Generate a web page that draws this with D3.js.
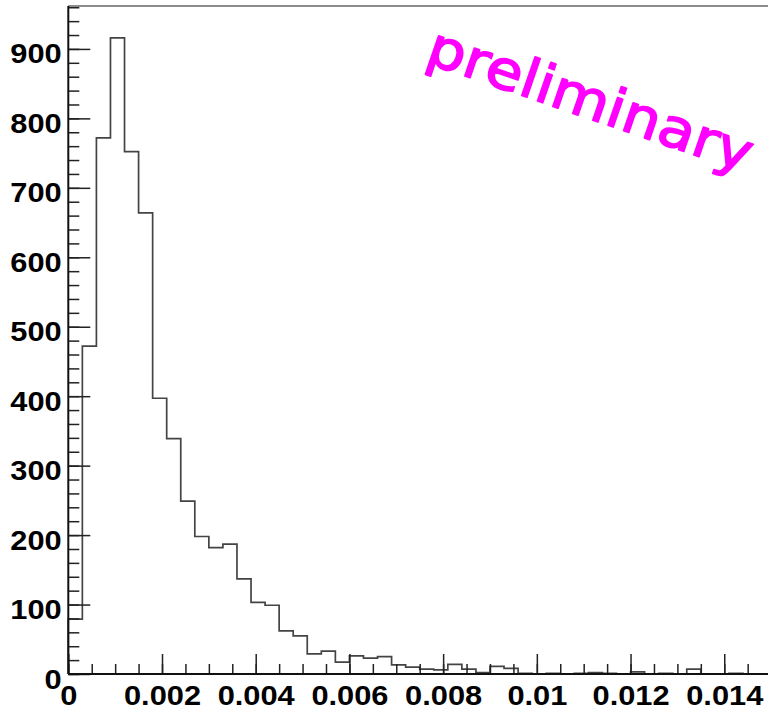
<!DOCTYPE html>
<html>
<head>
<meta charset="utf-8">
<script src="https://cdn.jsdelivr.net/npm/d3@7"></script>
<style>
  body { margin: 0; background: #fff; }
  svg text { font-family: "Liberation Sans", Arial, Helvetica, sans-serif; }
</style>
</head>
<body>
<div id="chart"></div>
<script>
// histogram: 50 bins of 0.0003 from 0 to 0.015
var binWidth = 0.0003;
var counts = [79, 472, 772, 916, 752, 664, 397, 339, 249, 198,
              182, 187, 137, 103, 99, 62, 55, 29, 33, 17,
              26, 23, 25, 13, 10, 7, 6, 14, 7, 2,
              11, 8, 1, 0, 1, 0, 1, 2, 1, 0,
              3, 0, 1, 0, 7, 0, 0, 1, 0, 0];
var xTicks = [0, 0.002, 0.004, 0.006, 0.008, 0.01, 0.012, 0.014];
var yTicks = [0, 100, 200, 300, 400, 500, 600, 700, 800, 900];
var label = "preliminary";

var width = 768, height = 710;
var frameLeft = 68.3, frameRight = 771.1, frameTop = 6, frameBottom = 674;

var svg = d3.select("#chart").append("svg")
    .attr("width", width)
    .attr("height", height);

var xScale = d3.scaleLinear().domain([0, counts.length * binWidth]).range([frameLeft, frameRight]);
var yScale = d3.scaleLinear().domain([0, d3.max(counts) * 1.05]).range([frameBottom, frameTop]);

// frame
svg.append("line").attr("x1", frameLeft).attr("x2", frameRight).attr("y1", frameTop).attr("y2", frameTop)
    .style("stroke", "#666").style("stroke-width", 1.5);
svg.append("line").attr("x1", frameRight).attr("x2", frameRight).attr("y1", frameTop).attr("y2", frameBottom)
    .style("stroke", "#666").style("stroke-width", 1.5);

// histogram outline
var pts = [[0, 0]];
counts.forEach(function (c, i) {
    pts.push([i * binWidth, c]);
    pts.push([(i + 1) * binWidth, c]);
});
pts.push([counts.length * binWidth, 0]);
var line = d3.line()
    .x(function (d) { return xScale(d[0]); })
    .y(function (d) { return yScale(d[1]); });
svg.append("path")
    .datum(pts)
    .attr("d", line)
    .style("fill", "none")
    .style("stroke", "#444")
    .style("stroke-width", 1.7);

// y axis: majors every 100, minors every 20
var yMinor = d3.range(0, yScale.domain()[1], 20);
svg.append("g")
    .attr("transform", "translate(" + frameLeft + ",0)")
    .call(d3.axisLeft(yScale).tickValues(yMinor).tickSize(-11).tickFormat(""))
    .call(function (g) { g.select(".domain").remove(); });
var yAxis = svg.append("g")
    .attr("transform", "translate(" + frameLeft + ",0)")
    .call(d3.axisLeft(yScale).tickValues(yTicks).tickSize(-22).tickPadding(6).tickFormat(d3.format("d")));
yAxis.select(".domain").remove();
yAxis.selectAll("text")
    .attr("dy", "0.5em")
    .attr("transform", "scale(1.1,1)")
    .style("font-size", "28px")
    .style("font-weight", "bold")
    .style("fill", "#000");

// x axis: majors every 0.002, minors every 0.0005
var xMinor = d3.range(0, 0.0151, 0.0005);
svg.append("g")
    .attr("transform", "translate(0," + frameBottom + ")")
    .call(d3.axisBottom(xScale).tickValues(xMinor).tickSize(-10).tickFormat(""))
    .call(function (g) { g.select(".domain").remove(); });
var xAxis = svg.append("g")
    .attr("transform", "translate(0," + frameBottom + ")")
    .call(d3.axisBottom(xScale).tickValues(xTicks).tickSize(-20).tickPadding(11).tickFormat(function (d) { return String(+d.toFixed(3)); }));
xAxis.select(".domain").remove();
xAxis.selectAll("text")
    .attr("transform", "scale(1.1,1)")
    .style("font-size", "28px")
    .style("font-weight", "bold")
    .style("fill", "#000");

svg.selectAll(".tick line").style("stroke", "#222").style("stroke-width", 1.5);

// axis lines
svg.append("line").attr("x1", frameLeft).attr("x2", frameRight).attr("y1", frameBottom).attr("y2", frameBottom)
    .style("stroke", "#111").style("stroke-width", 2);
svg.append("line").attr("x1", frameLeft).attr("x2", frameLeft).attr("y1", frameTop).attr("y2", frameBottom)
    .style("stroke", "#111").style("stroke-width", 2);

// watermark
svg.append("text")
    .attr("transform", "translate(424,62) rotate(19)")
    .attr("textLength", 340)
    .attr("lengthAdjust", "spacingAndGlyphs")
    .style("font-family", "'Comic Sans MS', 'DejaVu Sans', sans-serif")
    .style("font-size", "54px")
    .style("font-weight", "normal")
    .style("fill", "#ff00ff")
    .style("stroke", "#ff00ff")
    .style("stroke-width", 1.6)
    .style("stroke-linejoin", "round")
    .style("stroke-linecap", "round")
    .text(label);
</script>
</body>
</html>
